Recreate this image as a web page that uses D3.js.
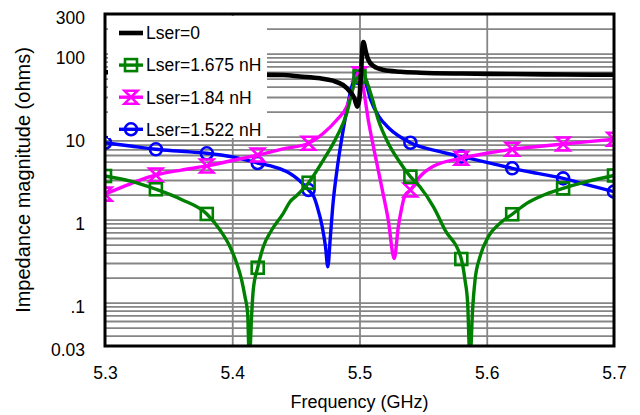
<!DOCTYPE html>
<html>
<head>
<meta charset="utf-8">
<script src="https://cdn.jsdelivr.net/npm/d3@7"></script>
<style>
  body { margin: 0; background: #fff; }
  svg { display: block; }
  text { font-family: "Liberation Sans", Arial, Helvetica, sans-serif; fill: #000; }
</style>
</head>
<body>
<svg id="chart" width="640" height="415"></svg>
<script>
// Impedance magnitude (ohms) versus frequency (GHz), one list of [f, |Z|] per series inductance.
const lser0 = [
  [5.30, 59.5], [5.33, 58.5], [5.36, 57.2], [5.40, 56.2], [5.44, 55.2], [5.453, 53],
  [5.469, 50.4], [5.479, 47.2], [5.487, 41.9], [5.4925, 34.8], [5.496, 28.9], [5.4983, 23],
  [5.4998, 27.6], [5.5012, 57.9], [5.5025, 127], [5.503, 138], [5.505, 105], [5.507, 83.7],
  [5.511, 70.9], [5.519, 63.4], [5.532, 60.5], [5.548, 58.9], [5.58, 57.5], [5.62, 56.8],
  [5.66, 56], [5.70, 55.5]
];
const lser1675 = [
  [5.30, 3.35], [5.32, 2.9], [5.34, 2.32], [5.36, 1.75], [5.38, 1.17], [5.3904, 0.75],
  [5.3982, 0.472], [5.4035, 0.298], [5.4074, 0.187], [5.41, 0.118], [5.4121, 0.0743],
  [5.4134, 0.02], [5.4153, 0.0743], [5.4165, 0.142], [5.42, 0.263], [5.4244, 0.472],
  [5.431, 0.75], [5.4401, 1.19], [5.4454, 1.64], [5.4507, 1.95], [5.46, 2.78], [5.4716, 5.22],
  [5.4821, 9.98], [5.49, 19.1], [5.4939, 33.2], [5.4965, 48], [5.50, 53], [5.503, 60],
  [5.5045, 52], [5.5096, 30.2], [5.5148, 15.85], [5.5226, 8.31], [5.5305, 5.22], [5.54, 3.29],
  [5.5475, 2.49], [5.558, 1.43], [5.5672, 0.75], [5.58, 0.335], [5.5829, 0.187], [5.585, 0.098],
  [5.5868, 0.02], [5.589, 0.089], [5.5908, 0.187], [5.5947, 0.357], [5.6012, 0.622],
  [5.6104, 0.903], [5.62, 1.16], [5.6314, 1.57], [5.6418, 1.89], [5.66, 2.38], [5.68, 2.9],
  [5.70, 3.4]
];
const lser184 = [
  [5.30, 2.03], [5.32, 2.7], [5.34, 3.45], [5.36, 3.95], [5.38, 4.43], [5.40, 5.15],
  [5.42, 6.0], [5.44, 7.1], [5.46, 8.31], [5.4716, 10.96], [5.4821, 15.85], [5.49, 22.9],
  [5.4952, 39.9], [5.498, 56], [5.50, 57], [5.503, 38], [5.5069, 15.85], [5.512, 6.29],
  [5.5174, 2.49], [5.5226, 0.99], [5.5273, 0.34], [5.5305, 0.82], [5.533, 1.35],
  [5.5357, 1.95], [5.54, 2.27], [5.5475, 3.3], [5.558, 4.4], [5.58, 5.48], [5.60, 6.3],
  [5.62, 7.03], [5.64, 7.6], [5.66, 8.14], [5.68, 8.7], [5.70, 9.28]
];
const lser1522 = [
  [5.30, 8.44], [5.32, 7.7], [5.34, 7.03], [5.36, 6.65], [5.38, 6.29], [5.40, 5.7],
  [5.42, 4.81], [5.44, 3.95], [5.4454, 3.6], [5.46, 2.27], [5.4641, 1.89], [5.4668, 1.43],
  [5.4707, 0.82], [5.4733, 0.47], [5.4751, 0.27], [5.4771, 0.62], [5.4792, 1.57],
  [5.4823, 3.96], [5.4863, 9.98], [5.49, 20.9], [5.4939, 39.9], [5.4965, 50], [5.50, 50.5],
  [5.503, 48], [5.5049, 43.9], [5.5088, 27.6], [5.5153, 17.4], [5.5232, 12.6], [5.54, 8.44],
  [5.5632, 6.58], [5.58, 5.73], [5.60, 4.9], [5.62, 4.15], [5.64, 3.6], [5.66, 3.14],
  [5.68, 2.6], [5.70, 2.17]
];

// Frequencies that carry a symbol on the marked series
const markerFreqs = [5.30, 5.34, 5.38, 5.42, 5.46, 5.50, 5.54, 5.58, 5.62, 5.66, 5.70];

// Axis ticks
const xTicks = [5.3, 5.4, 5.5, 5.6, 5.7];
const yTicks = [300, 100, 10, 1, 0.1, 0.03];
const yTickLabels = ["300", "100", "10", "1", ".1", "0.03"];

const seriesNames = ["Lser=0", "Lser=1.675 nH", "Lser=1.84 nH", "Lser=1.522 nH"];

// ---------------------------------------------------------------------------
const svg = d3.select("#chart");
const plotL = 105, plotR = 614, plotT = 14, plotB = 346;
const W = plotR - plotL, H = plotB - plotT;

const x = d3.scaleLinear().domain([5.3, 5.7]).range([plotL, plotR]);
const y = d3.scaleLog().domain([0.03, 300]).range([plotB, plotT]);

const series = [
  { name: seriesNames[0], data: lser0,    color: "#000000", width: 4.6, symbol: null },
  { name: seriesNames[1], data: lser1675, color: "#008000", width: 3.4, symbol: "square" },
  { name: seriesNames[2], data: lser184,  color: "#ff00ff", width: 3.4, symbol: "hourglass" },
  { name: seriesNames[3], data: lser1522, color: "#0000ff", width: 3.4, symbol: "circle" }
];

// Log grid: every integer multiple inside each decade
const gridVals = [];
for (let e = -2; e <= 2; e++) {
  for (let m = 1; m <= 9; m++) {
    const v = m * Math.pow(10, e);
    if (v > 0.0300001 && v < 299.999) gridVals.push(+v.toPrecision(3));
  }
}

const grid = svg.append("g").attr("class", "grid");
grid.append("g")
  .attr("transform", `translate(${plotL},0)`)
  .call(d3.axisLeft(y).tickValues(gridVals).tickSize(-W).tickFormat(""))
  .call(g => g.select(".domain").remove())
  .call(g => g.selectAll("line").attr("stroke", "#858585").attr("stroke-width", 1.8));
grid.append("g")
  .attr("transform", `translate(0,${plotB})`)
  .call(d3.axisBottom(x).tickValues([5.4, 5.5, 5.6]).tickSize(-H).tickFormat(""))
  .call(g => g.select(".domain").remove())
  .call(g => g.selectAll("line").attr("stroke", "#858585").attr("stroke-width", 1.8));

// Plot-area clip
svg.append("defs").append("clipPath").attr("id", "plotClip")
  .append("rect").attr("x", plotL).attr("y", plotT).attr("width", W).attr("height", H);

const line = d3.line()
  .x(d => x(d[0]))
  .y(d => y(d[1]))
  .curve(d3.curveMonotoneX);

function drawSymbol(sel, type, color) {
  const sw = 2.6;
  if (type === "square") {
    sel.append("rect").attr("x", -6).attr("y", -6).attr("width", 12).attr("height", 12)
      .attr("fill", "none").attr("stroke", color).attr("stroke-width", sw);
  } else if (type === "circle") {
    sel.append("circle").attr("r", 6)
      .attr("fill", "none").attr("stroke", color).attr("stroke-width", sw);
  } else if (type === "hourglass") {
    sel.append("path").attr("d", "M-6.5,-6.5H6.5L-6.5,6.5H6.5Z")
      .attr("fill", "none").attr("stroke", color).attr("stroke-width", sw)
      .attr("stroke-linejoin", "miter");
  }
}

const plot = svg.append("g").attr("clip-path", "url(#plotClip)");
const drawOrder = [3, 2, 1, 0];
drawOrder.forEach(i => {
  const s = series[i];
  const g = plot.append("g");
  g.append("path")
    .datum(s.data)
    .attr("d", line)
    .attr("fill", "none")
    .attr("stroke", s.color)
    .attr("stroke-width", s.width)
    .attr("stroke-linejoin", "round");
  if (s.symbol) {
    const pts = s.data.filter(d => markerFreqs.some(f => Math.abs(f - d[0]) < 1e-6));
    g.selectAll("g.mk").data(pts).join("g")
      .attr("class", "mk")
      .attr("transform", d => `translate(${x(d[0])},${y(d[1])})`)
      .each(function () { drawSymbol(d3.select(this), s.symbol, s.color); });
  }
});

// Legend
const legend = svg.append("g");
legend.append("rect").attr("x", 108).attr("y", 16).attr("width", 159).attr("height", 122)
  .attr("fill", "#fff");
series.forEach((s, i) => {
  const cy = 33 + i * 32.1;
  const g = legend.append("g");
  g.append("line").attr("x1", 119).attr("x2", 143).attr("y1", cy).attr("y2", cy)
    .attr("stroke", s.color).attr("stroke-width", s.width);
  if (s.symbol) {
    const m = g.append("g").attr("transform", `translate(131,${cy})`);
    drawSymbol(m, s.symbol, s.color);
  }
  g.append("text").attr("x", 146).attr("y", cy).attr("dy", "0.36em")
    .style("font-size", "17.5px").text(s.name);
});

// Axes
svg.append("g")
  .attr("transform", `translate(0,${plotB})`)
  .call(d3.axisBottom(x).tickValues(xTicks).tickSize(0).tickPadding(21).tickFormat(d3.format(".1f")))
  .call(g => g.select(".domain").remove())
  .call(g => g.selectAll("text").style("font-size", "17.5px")
    .style("font-family", "'Liberation Sans', Arial, sans-serif").attr("fill", "#000"));

svg.append("g")
  .attr("transform", `translate(${plotL},0)`)
  .call(d3.axisLeft(y).tickValues(yTicks).tickSize(0).tickPadding(20)
    .tickFormat((d, i) => yTickLabels[i]))
  .call(g => g.select(".domain").remove())
  .call(g => g.selectAll("text").style("font-size", "17.5px").attr("dy", "0.56em")
    .style("font-family", "'Liberation Sans', Arial, sans-serif").attr("fill", "#000"));

// Frame
svg.append("rect").attr("x", plotL).attr("y", plotT).attr("width", W).attr("height", H)
  .attr("fill", "none").attr("stroke", "#000").attr("stroke-width", 3);

// Axis titles
svg.append("text").attr("x", (plotL + plotR) / 2).attr("y", 408)
  .attr("text-anchor", "middle").style("font-size", "18px").text("Frequency (GHz)");
svg.append("text").attr("transform", `translate(29.5,${(plotT + plotB) / 2}) rotate(-90)`)
  .attr("text-anchor", "middle").style("font-size", "20px").text("Impedance magnitude (ohms)");
</script>
</body>
</html>
